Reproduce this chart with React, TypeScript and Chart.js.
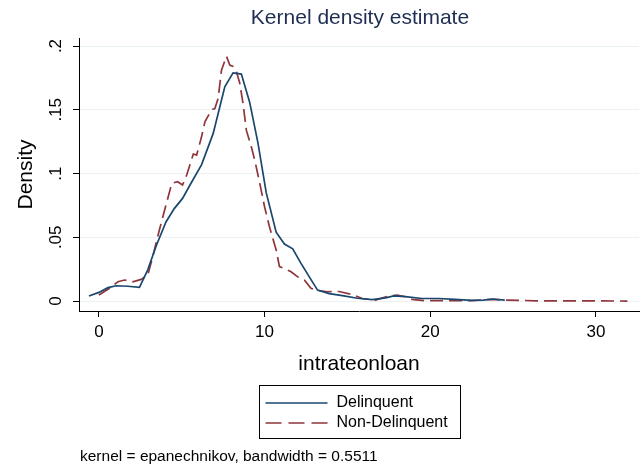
import React, { useEffect, useRef } from "react";
import { Chart, registerables } from "chart.js";

Chart.register(...registerables);

const chartTitle = "Kernel density estimate";
const xTitle = "intrateonloan";
const yTitle = "Density";
const noteText = "kernel = epanechnikov, bandwidth = 0.5511";
const seriesNames = ["Delinquent", "Non-Delinquent"];
const xTickValues = [0, 10, 20, 30];
const yTickValues = [0, 0.05, 0.1, 0.15, 0.2];
const yTickLabels = ["0", ".05", ".1", ".15", ".2"];

const delinquentX = [
  -0.6, 0.0, 0.55, 1.05, 1.75, 2.45, 2.95, 3.45, 4.05, 4.55, 5.05, 5.5, 6.2, 6.9, 7.6, 8.1, 8.6, 9.1, 9.6,
  10.1, 10.7, 11.2, 11.7, 12.2, 12.7, 13.2, 13.9, 14.7, 15.6, 16.5, 17.3, 17.8, 18.5, 19.5, 20.5, 21.5,
  22.5, 23.2, 23.8, 24.5,
];
const delinquentY = [
  0.004, 0.0068, 0.0105, 0.012, 0.0116, 0.0108, 0.0245, 0.043, 0.062, 0.0725, 0.0805, 0.091, 0.107,
  0.1315, 0.168, 0.179, 0.178, 0.156, 0.124, 0.085, 0.054, 0.0447, 0.041, 0.0295, 0.019, 0.0086, 0.0058,
  0.0042, 0.0022, 0.0012, 0.0025, 0.004, 0.0034, 0.002, 0.002, 0.0013, 0.0005, 0.0008, 0.0016, 0.0008,
];

const nonDelinquentX = [
  0.0, 0.55, 1.15, 1.55, 2.05, 2.55, 2.95, 3.25, 3.65, 4.05, 4.4, 4.75, 5.05, 5.3, 5.7, 5.9, 6.2, 6.4, 6.8,
  7.0, 7.2, 7.4, 7.7, 7.9, 8.1, 8.3, 8.5, 8.7, 8.9, 9.2, 9.4, 9.7, 10.0, 10.3, 10.7, 10.9, 11.2, 11.6, 12.0,
  12.4, 12.8, 13.1, 13.8, 14.5, 15.3, 15.9, 16.7, 17.5, 18.0, 18.5, 18.9, 19.7, 20.9, 22.5, 23.6, 24.6,
  26.4, 29.2, 31.9,
];
const nonDelinquentY = [
  0.0047, 0.0092, 0.0151, 0.0165, 0.0151, 0.017, 0.0204, 0.0348, 0.0557, 0.0753, 0.0923, 0.0936, 0.091,
  0.0988, 0.1153, 0.1145, 0.129, 0.1406, 0.15, 0.151, 0.159, 0.181, 0.192, 0.185, 0.184, 0.18, 0.171,
  0.155, 0.134, 0.121, 0.111, 0.093, 0.074, 0.058, 0.04, 0.027, 0.0256, 0.023, 0.019, 0.0165, 0.01,
  0.0086, 0.0073, 0.0075, 0.005, 0.002, 0.0008, 0.004, 0.0047, 0.0034, 0.0013, 0.0003, 0.0003, 0.0003,
  0.0013, 0.0008, 0.0002, 0.0002, 0.0,
];

const FONT = "'Liberation Sans', Arial, sans-serif";

const legendAndNote = {
  id: "legendAndNote",
  afterDraw(chart: any) {
    const ctx = chart.ctx;
    const area = chart.chartArea;
    const cx = (area.left + area.right) / 2;
    ctx.save();
    // title centred over the plot region
    ctx.fillStyle = "#1e2d53";
    ctx.font = `21px ${FONT}`;
    ctx.textAlign = "center";
    ctx.textBaseline = "middle";
    ctx.fillText(chartTitle, cx + 1, 18);

    const boxW = 201;
    const boxH = 53;
    const boxL = Math.round(cx - boxW / 2) + 0.5;
    const boxT = 385.5;
    ctx.strokeStyle = "#000";
    ctx.lineWidth = 1;
    ctx.setLineDash([]);
    ctx.strokeRect(boxL, boxT, boxW, boxH);
    chart.data.datasets.forEach((ds: any, i: number) => {
      const y = boxT + 17.5 + i * 20;
      ctx.beginPath();
      ctx.strokeStyle = ds.borderColor;
      ctx.lineWidth = ds.borderWidth;
      ctx.setLineDash(ds.borderDash ? [16, 7] : []);
      ctx.moveTo(boxL + 6, y);
      ctx.lineTo(boxL + 68, y);
      ctx.stroke();
      ctx.setLineDash([]);
      ctx.fillStyle = "#000";
      ctx.font = `16px ${FONT}`;
      ctx.textAlign = "left";
      ctx.textBaseline = "middle";
      ctx.fillText(ds.label, boxL + 77, y);
    });
    ctx.fillStyle = "#000";
    ctx.font = `15.5px ${FONT}`;
    ctx.textAlign = "left";
    ctx.textBaseline = "middle";
    ctx.fillText(noteText, area.left + 1, 457);
    ctx.restore();
  },
};

export default function App() {
  const canvasRef = useRef<HTMLCanvasElement | null>(null);

  useEffect(() => {
    document.body.style.margin = "0";
    const canvas = canvasRef.current;
    if (!canvas) return;
    const chart = new Chart(canvas, {
      type: "line",
      data: {
        datasets: [
          {
            label: seriesNames[0],
            data: delinquentX.map((x, i) => ({ x, y: delinquentY[i] })),
            borderColor: "#1a476f",
            borderWidth: 1.7,
            pointRadius: 0,
            tension: 0,
            fill: false,
          },
          {
            label: seriesNames[1],
            data: nonDelinquentX.map((x, i) => ({ x, y: nonDelinquentY[i] })),
            borderColor: "#90353b",
            borderWidth: 1.7,
            borderDash: [13, 6],
            pointRadius: 0,
            tension: 0,
            fill: false,
          },
        ],
      },
      options: {
        animation: false,
        responsive: false,
        devicePixelRatio: 1,
        layout: { padding: { left: 14, right: 2, top: 38, bottom: 91 } },
        plugins: {
          legend: { display: false },
          tooltip: { enabled: false },
          title: { display: false },
        },
        scales: {
          x: {
            type: "linear",
            min: -1.2,
            max: 32.6,
            afterBuildTicks: (scale: any) => {
              scale.ticks = xTickValues.map((v) => ({ value: v }));
            },
            afterFit: (scale: any) => {
              scale.height = 66;
            },
            border: { display: true, color: "#000", width: 1 },
            grid: { drawOnChartArea: false, drawTicks: true, tickLength: 6, tickColor: "#000" },
            ticks: {
              color: "#000",
              font: { family: FONT, size: 17 },
              padding: 5,
              maxRotation: 0,
              callback: (v: any) => String(v),
            },
            title: {
              display: true,
              text: xTitle,
              color: "#000",
              font: { family: FONT, size: 21 },
              padding: { top: 0, bottom: 0 },
            },
          },
          y: {
            type: "linear",
            min: -0.0078,
            max: 0.2063,
            afterBuildTicks: (scale: any) => {
              scale.ticks = yTickValues.map((v) => ({ value: v }));
            },
            afterFit: (scale: any) => {
              scale.width = 65;
            },
            border: { display: true, color: "#000", width: 1 },
            grid: { drawOnChartArea: true, color: "#eaf2f3", lineWidth: 1, drawTicks: true, tickLength: 6, tickColor: "#000" },
            ticks: {
              color: "#000",
              font: { family: FONT, size: 17 },
              padding: 5,
              minRotation: 90,
              maxRotation: 90,
              crossAlign: "center",
              callback: (v: any, i: number) => yTickLabels[i],
            },
            title: {
              display: true,
              text: yTitle,
              color: "#000",
              font: { family: FONT, size: 21 },
              padding: { top: 0, bottom: 0 },
            },
          },
        },
      },
      plugins: [legendAndNote],
    });
    return () => chart.destroy();
  }, []);

  return (
    <div style={{ width: 641, height: 468, background: "#fff" }}>
      <canvas ref={canvasRef} width={641} height={468} style={{ display: "block" }} />
    </div>
  );
}
